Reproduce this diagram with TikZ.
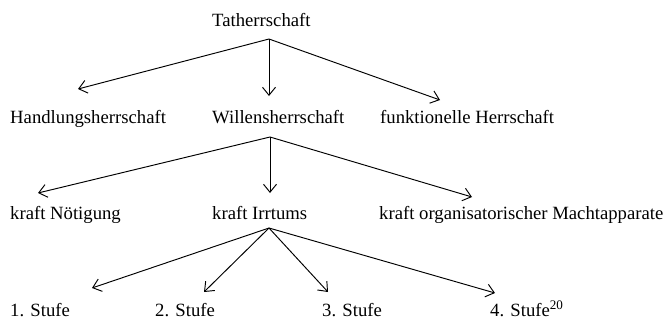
\documentclass[tikz,border=0pt]{standalone}
\usepackage{fontspec}
\setmainfont{Liberation Serif}
\usetikzlibrary{arrows.meta}
\begin{document}
\begin{tikzpicture}[x=1pt,y=-1pt,
  lbl/.style={anchor=base west,inner sep=0pt,font=\fontsize{18.7}{22}\selectfont},
  conn/.style={line width=0.95pt,-{Straight Barb[length=8pt,width=13pt,line width=0.95pt]}}]
\useasboundingbox (0,0) rectangle (665,322);
% row 0
\node[lbl] (tat) at (212,26) {Tatherrschaft};
% row 1
\node[lbl] (hand) at (10,123) {Handlungsherrschaft};
\node[lbl] (will) at (212,123) {Willensherrschaft};
\node[lbl] (funk) at (380,123) {funktionelle Herrschaft};
% row 2
\node[lbl] (noet) at (10,219) {kraft Nötigung};
\node[lbl] (irr) at (212,219) {kraft Irrtums};
\node[lbl] (org) at (379,219) {kraft organisatorischer Machtapparate};
% row 3
\node[lbl] (s1) at (10,316) {1. Stufe};
\node[lbl] (s2) at (155,316) {2. Stufe};
\node[lbl] (s3) at (322,316) {3. Stufe};
\node[lbl] (s4) at (490,316) {4. Stufe\textsuperscript{20}};
% apex and tip coordinates
\coordinate (a0) at (269,39);
\coordinate (thand) at (78,89);
\coordinate (twill) at (269,96);
\coordinate (tfunk) at (440,100);
\coordinate (a1) at (270,137);
\coordinate (tnoet) at (38,193);
\coordinate (tirr) at (270,193);
\coordinate (torg) at (472,197);
\coordinate (a2) at (269,228);
\coordinate (ts1) at (92,288);
\coordinate (ts2) at (204,292);
\coordinate (ts3) at (328,292);
\coordinate (ts4) at (495,293);
% connectors
\draw[conn] (a0) -- (thand);
\draw[conn] (a0) -- (twill);
\draw[conn] (a0) -- (tfunk);
\draw[conn] (a1) -- (tnoet);
\draw[conn] (a1) -- (tirr);
\draw[conn] (a1) -- (torg);
\draw[conn] (a2) -- (ts1);
\draw[conn] (a2) -- (ts2);
\draw[conn] (a2) -- (ts3);
\draw[conn] (a2) -- (ts4);
\end{tikzpicture}
\end{document}
